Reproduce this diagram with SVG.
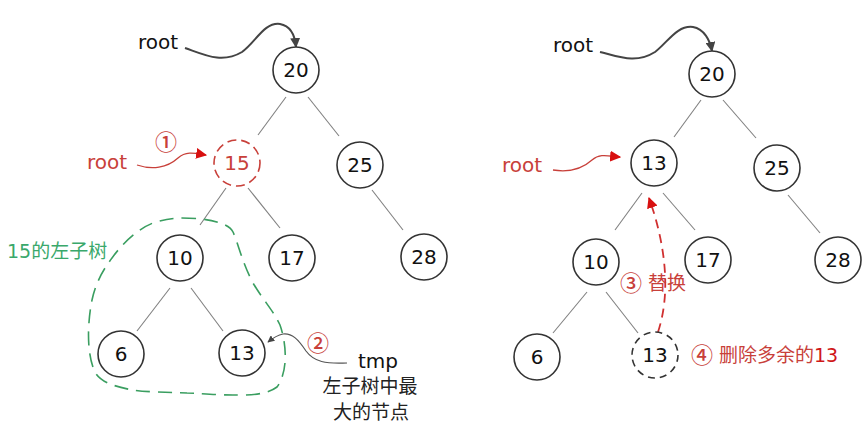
<svg xmlns="http://www.w3.org/2000/svg" width="865" height="425" viewBox="0 0 865 425">
<style>
.n{fill:#fff;stroke:#333;stroke-width:1.6}
.t{font-family:"DejaVu Sans",sans-serif;font-size:20px;fill:#111;text-anchor:middle}
.e{stroke:#808080;stroke-width:1.1;fill:none}
.cj{font-family:"DejaVu Sans","Noto Sans CJK SC",sans-serif;font-size:19px}
.ci{font-family:"Noto Sans CJK SC",sans-serif;font-size:22px;font-weight:500}
.red{fill:#c8403a}
</style>
<defs>
<marker id="ab" viewBox="0 0 10 10" refX="9" refY="5" markerWidth="7" markerHeight="7" orient="auto" markerUnits="userSpaceOnUse"><path d="M0,0 L10,5 L0,10 z" fill="#444"/></marker>
<marker id="ab2" viewBox="0 0 10 10" refX="9" refY="5" markerWidth="10" markerHeight="10" orient="auto" markerUnits="userSpaceOnUse"><path d="M0,0 L10,5 L0,10 z" fill="#444"/></marker>
<marker id="ar" viewBox="0 0 10 10" refX="9" refY="5" markerWidth="11" markerHeight="11" orient="auto" markerUnits="userSpaceOnUse"><path d="M0,0 L10,5 L0,10 z" fill="#d81010"/></marker>
</defs>
<g id="connectors">
<line class="e" x1="286" y1="97" x2="258" y2="135"/>
<line class="e" x1="308" y1="97" x2="339" y2="136"/>
<line class="e" x1="226" y1="188" x2="200" y2="225"/>
<line class="e" x1="248" y1="188" x2="280" y2="228"/>
<line class="e" x1="372" y1="190" x2="403" y2="230"/>
<line class="e" x1="170" y1="288" x2="137" y2="331"/>
<line class="e" x1="191" y1="288" x2="223" y2="331"/>
<line class="e" x1="701" y1="100" x2="674" y2="137"/>
<line class="e" x1="723" y1="100" x2="756" y2="138"/>
<line class="e" x1="642" y1="193" x2="615" y2="230"/>
<line class="e" x1="663" y1="193" x2="695" y2="230"/>
<line class="e" x1="788" y1="195" x2="820" y2="233"/>
<line class="e" x1="587" y1="292" x2="553" y2="333"/>
<line class="e" x1="606" y1="292" x2="638" y2="333"/>
<path d="M185,48 C205,55 222,64 242,52 C256,42 264,22 280,24 C291,26 295,36 296,47" fill="none" stroke="#444" stroke-width="2" marker-end="url(#ab2)"/>
<path d="M600,52 C620,57 636,64 655,52 C668,42 677,25 693,27 C704,29 710,40 712,51" fill="none" stroke="#444" stroke-width="2" marker-end="url(#ab2)"/>
<path d="M137,165 C152,170 167,168 178,158 C186,151 194,153 206,155" fill="none" stroke="#c8403a" stroke-width="1.3" marker-end="url(#ar)"/>
<path d="M553,170 C566,172 580,171 592,160 C600,153 608,156 620,157" fill="none" stroke="#c8403a" stroke-width="1.3" marker-end="url(#ar)"/>
<path d="M347,363 C326,364 314,362 306,351 C298,339 292,333 283,334 C278,335 273,338 268,342" fill="none" stroke="#555" stroke-width="1.2" marker-end="url(#ab)"/>
<path d="M658,332 C672,290 664,240 649,198" fill="none" stroke="#d03030" stroke-width="1.8" stroke-dasharray="9,6" marker-end="url(#ar)"/>
<path d="M182,218 C205,218 228,222 233,232 C238,243 242,262 253,283 C263,300 273,310 280,325 C287,345 288,372 277,387 C265,396 245,395 233,395 C215,395 195,393 187,393 C165,392 145,392 133,390 C110,386 98,380 94,370 C86,350 88,320 92,300 C96,282 103,270 112,258 C125,240 140,228 153,223 C165,219 175,218 182,218 Z" fill="none" stroke="#3a9e60" stroke-width="1.6" stroke-dasharray="14,8"/>
</g>
<g id="n20a"><circle class="n" cx="296" cy="70" r="23"/><text class="t" x="296" y="77">20</text></g>
<g id="n15a"><circle class="n" cx="237" cy="163" r="23" style="stroke:#c8403a;stroke-dasharray:9,5"/><text class="t" x="237" y="170" style="fill:#c8403a">15</text></g>
<g id="n25a"><circle class="n" cx="360" cy="165" r="23"/><text class="t" x="360" y="172">25</text></g>
<g id="n10a"><circle class="n" cx="180" cy="258" r="23"/><text class="t" x="180" y="265">10</text></g>
<g id="n17a"><circle class="n" cx="292" cy="258" r="23"/><text class="t" x="292" y="265">17</text></g>
<g id="n28a"><circle class="n" cx="424" cy="257" r="23"/><text class="t" x="424" y="264">28</text></g>
<g id="n6a"><circle class="n" cx="121" cy="354" r="23"/><text class="t" x="121" y="361">6</text></g>
<g id="n13a"><circle class="n" cx="242" cy="353" r="23"/><text class="t" x="242" y="360">13</text></g>
<g id="n20b"><circle class="n" cx="712" cy="74" r="23"/><text class="t" x="712" y="81">20</text></g>
<g id="n13b"><circle class="n" cx="654" cy="163" r="23"/><text class="t" x="654" y="170">13</text></g>
<g id="n25b"><circle class="n" cx="777" cy="168" r="23"/><text class="t" x="777" y="175">25</text></g>
<g id="n10b"><circle class="n" cx="596" cy="262" r="23"/><text class="t" x="596" y="269">10</text></g>
<g id="n17b"><circle class="n" cx="708" cy="260" r="23"/><text class="t" x="708" y="267">17</text></g>
<g id="n28b"><circle class="n" cx="838" cy="260" r="23"/><text class="t" x="838" y="267">28</text></g>
<g id="n6b"><circle class="n" cx="537" cy="357" r="23"/><text class="t" x="537" y="364">6</text></g>
<g id="n13c"><circle class="n" cx="655" cy="355" r="23" style="stroke-dasharray:7,5"/><text class="t" x="655" y="362">13</text></g>
<g id="labels">
<text class="t" x="158" y="49">root</text>
<text class="t" x="573" y="52">root</text>
<text class="t red" x="107" y="169">root</text>
<text class="t red" x="522" y="172">root</text>
<text class="ci red" x="166" y="150" text-anchor="middle">①</text>
<text class="ci red" x="318" y="351" text-anchor="middle">②</text>
<text class="cj" x="7" y="258" fill="#3aa86b" font-size="20">15的左子树</text>
<text class="t" x="378" y="368">tmp</text>
<text class="cj" x="370" y="393" text-anchor="middle" fill="#222">左子树中最</text>
<text class="cj" x="371" y="419" text-anchor="middle" fill="#222">大的节点</text>
<text class="red" x="620" y="291"><tspan class="ci">③</tspan><tspan class="cj" dx="6" dy="-1">替换</tspan></text>
<text class="red" x="691" y="363"><tspan class="ci">④</tspan><tspan class="cj" dx="6" dy="-1">删除多余的</tspan><tspan class="cj" fill="#d01818">13</tspan></text>
</g>
</svg>
